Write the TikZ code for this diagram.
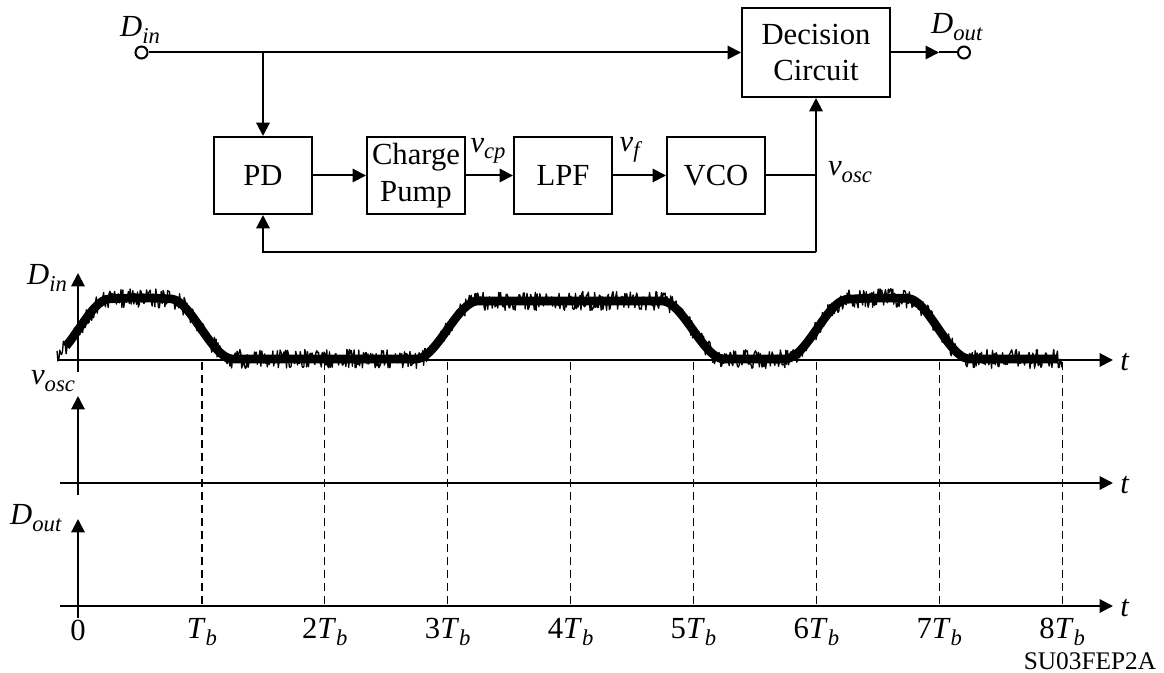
\documentclass[tikz,border=0pt]{standalone}
\usepackage{fontspec}
\setmainfont{Liberation Serif}
\usetikzlibrary{positioning, arrows.meta}
\newcommand{\subl}[2]{\textit{#1}\raisebox{-0.22em}{\fontsize{17}{17}\selectfont\textit{#2}}}

\begin{document}
\begin{tikzpicture}[
	x=0.75pt, y=-0.75pt,
	font=\fontsize{23}{27.5}\selectfont,
	>={Triangle[length=10pt, width=10pt]},
	% Define styles
	block/.style={rectangle, draw, line width=1.5pt, minimum width=73.5pt, minimum height=57.75pt, align=center, inner sep=0pt},
	terminal/.style={circle, draw, fill=white, line width=1.5pt, minimum size=9pt, inner sep=0pt},
	wire/.style={line width=1.5pt},
	arrow/.style={->, line width=1.5pt},
	guide/.style={line width=0.9pt, dash pattern=on 6pt off 3.75pt},
	lbl/.style={inner sep=0pt},
	declare function={stp(\x,\c)=(max(0,min(1,(\x-\c+31)/62)))^2*(3-2*max(0,min(1,(\x-\c+31)/62)));
		level(\x)=359-58*(stp(\x,78)-stp(\x,202)+stp(\x,447)-stp(\x,693)+stp(\x,816)-stp(\x,939))
			-3*(stp(\x,78)-stp(\x,202)+stp(\x,816)-stp(\x,939))*sin(1.45*(\x-78));}
	]
	\useasboundingbox (0,0) rectangle (1164,673);
	
	% 1. Blocks
	\node[block] (pd) at (263,175.5) {PD};
	\node[block, right=39.75pt of pd] (pump) {Charge\\Pump};
	\node[block, right=35.25pt of pump] (lpf) {LPF};
	\node[block, right=39.75pt of lpf] (vco) {VCO};
	\node[block, minimum width=111pt, minimum height=66.75pt] (decision) at (816,52.5) {Decision\\Circuit};
	
	% Terminals
	\node[terminal] (din) at (141.5,52.5) {};
	\node[terminal] (dout) at (964,52.5) {};
	\node[lbl] (dinlabel) at (140,30) {\subl{D}{in}};
	\node[lbl] (doutlabel) at (957,27) {\subl{D}{out}};
	
	% 2. Connections
	\coordinate (tap) at (din -| pd);
	\coordinate (osc) at (vco -| decision);
	\coordinate (back) at (816,252);
	\coordinate (backpd) at (back -| pd);
	\coordinate (doutmid) at (939,52.5);
	\draw[arrow] (din) -- (decision);
	\draw[arrow] (tap) -- (pd);
	\draw[arrow] (pd) -- (pump);
	\draw[arrow] (pump) -- (lpf);
	\draw[arrow] (lpf) -- (vco);
	\draw[wire] (vco) -- (osc);
	\draw[arrow] (back) -- (decision.south);
	\draw[arrow] (back) -- (backpd) -- (pd.south);
	\draw[arrow] (decision) -- (doutmid);
	\draw[wire] (doutmid) -- (dout);
	\node[lbl] (vcplabel) at (488,151) {\subl{v}{cp}};
	\node[lbl] (vflabel) at (631,150) {\subl{v}{f}};
	\node[lbl] (vosclabel) at (850,172) {\subl{v}{osc}};
	
	% 3. Axes
	\coordinate (dinbot) at (78,372);
	\coordinate (dintop) at (78,273);
	\coordinate (oscbot) at (78,495);
	\coordinate (osctop) at (78,396);
	\coordinate (outbot) at (78,618);
	\coordinate (outtop) at (78,519);
	\draw[arrow] (dinbot) -- (dintop);
	\draw[arrow] (oscbot) -- (osctop);
	\draw[arrow] (outbot) -- (outtop);
	\node[lbl] (tdin) at (1125,362) {\textit{t}};
	\node[lbl] (tosc) at (1125,485) {\textit{t}};
	\node[lbl] (tout) at (1125,608) {\textit{t}};
	\coordinate (dinstart) at (57,360);
	\coordinate (oscstart) at (60,483);
	\coordinate (outstart) at (60,606);
	\coordinate (dinend) at (1113,360);
	\coordinate (oscend) at (1113,483);
	\coordinate (outend) at (1113,606);
	\draw[arrow] (dinstart) -- (dinend);
	\draw[arrow] (oscstart) -- (oscend);
	\draw[arrow] (outstart) -- (outend);
	\node[lbl] (dinaxis) at (47,278) {\subl{D}{in}};
	\node[lbl] (oscaxis) at (53,381) {\subl{v}{osc}};
	\node[lbl] (outaxis) at (36,518) {\subl{D}{out}};
	
	% 4. Time marks
	\node[lbl] (zero) at (78,630) {0};
	\foreach \n/\txt in {1/,2/2,3/3,4/4,5/5,6/6,7/7,8/8}{
		\node[lbl] (mark\n) at ({79+122.9*\n},632) {\txt\subl{T}{b}};
		\coordinate (top\n) at ({79+122.9*\n},362);
		\coordinate (low\n) at ({79+122.9*\n},606);
		\draw[guide] (top\n) -- (low\n);
	}
	\node[lbl, font=\fontsize{19}{19}\selectfont] (code) at (1090,661) {SU03FEP2A};
	
	% 5. Input waveform
	\pgfmathsetseed{2003}
	\draw[line width=6.5pt, line join=round] plot[domain=66:1058, samples=300, smooth, variable=\x] (\x,{level(\x)});
	\draw[line width=1pt, line join=round]
		plot[domain=57:1062, samples=1100, variable=\x] (\x,{level(\x)+19*(rnd-0.5)});
\end{tikzpicture}
\end{document}
